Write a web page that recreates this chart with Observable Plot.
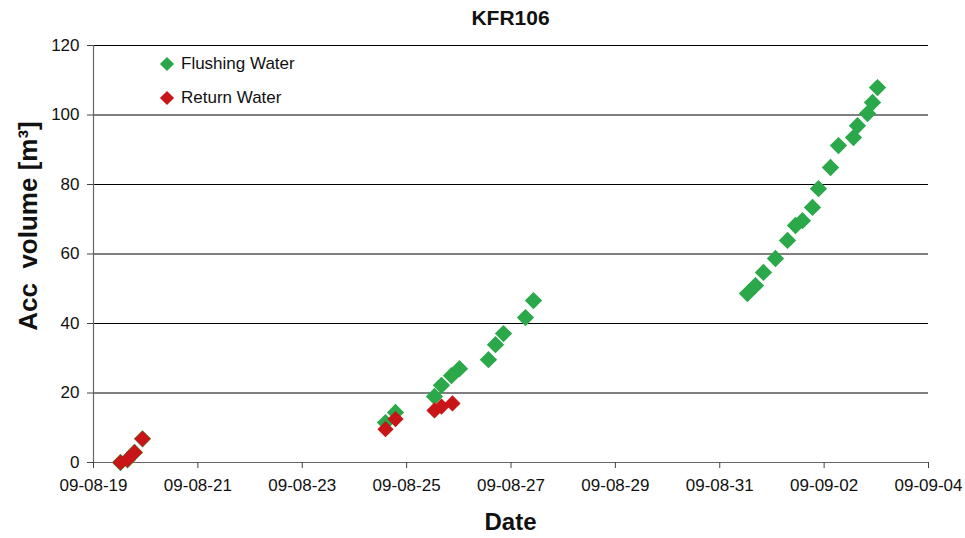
<!DOCTYPE html>
<html>
<head>
<meta charset="utf-8">
<script src="https://cdn.jsdelivr.net/npm/d3@7"></script>
<script src="https://cdn.jsdelivr.net/npm/@observablehq/plot@0.6"></script>
<style>
  body { margin: 0; background: #fff; font-family: Arial, "Liberation Sans", sans-serif; }
  #wrap { position: relative; width: 965px; height: 538px; overflow: hidden; }
  .title { position: absolute; left: 93px; width: 835px; top: 6px; text-align: center; font-weight: bold; font-size: 21px; color: #111; }
  .xlab { position: absolute; left: 93px; width: 835px; top: 508px; text-align: center; font-weight: bold; font-size: 24px; color: #111; }
  .ylab { position: absolute; left: 28px; top: 226px; transform: translate(-50%, -50%) rotate(-90deg); white-space: pre; font-weight: bold; font-size: 26px; color: #111; }
  .legend { position: absolute; left: 160px; top: 53px; font-size: 17px; color: #111; }
  .legend .item { display: flex; align-items: center; height: 22px; margin-bottom: 12px; }
  .legend .sw { width: 10px; height: 10px; transform: rotate(45deg); margin-right: 9px; margin-left: 2px; }
</style>
</head>
<body>
<div id="wrap">
  <div id="chart"></div>
  <div class="title">KFR106</div>
  <div class="xlab">Date</div>
  <div class="ylab">Acc  volume [m³]</div>
  <div class="legend">
    <div class="item"><span class="sw" style="background:#2aa84a"></span>Flushing Water</div>
    <div class="item"><span class="sw" style="background:#c81518"></span>Return Water</div>
  </div>
</div>
<script>
// ---- Data ----
const flushDates = [
  "2009-08-19T12:25", "2009-08-19T15:38", "2009-08-19T18:51", "2009-08-19T22:32",
  "2009-08-24T14:17", "2009-08-24T18:53",
  "2009-08-25T12:49", "2009-08-25T16:02", "2009-08-25T20:38", "2009-08-26T00:18",
  "2009-08-26T13:38", "2009-08-26T16:52", "2009-08-26T20:33", "2009-08-27T06:39", "2009-08-27T10:20",
  "2009-08-31T12:44", "2009-08-31T16:25", "2009-08-31T20:06", "2009-09-01T01:38", "2009-09-01T07:09",
  "2009-09-01T10:50", "2009-09-01T14:02", "2009-09-01T18:39", "2009-09-01T21:24", "2009-09-02T02:56",
  "2009-09-02T06:36", "2009-09-02T13:30", "2009-09-02T15:20", "2009-09-02T19:56", "2009-09-02T22:15",
  "2009-09-03T00:33"
];
const flushVol = [
  0, 0.8, 2.9, 6.8,
  11.5, 14.4,
  19.0, 22.2, 25.0, 27.0,
  29.6, 33.9, 37.1, 41.7, 46.6,
  48.6, 50.9, 54.7, 58.7, 63.9,
  68.2, 69.6, 73.4, 78.8, 84.9,
  91.2, 93.5, 96.9, 100.4, 103.6,
  107.9
];
const returnDates = [
  "2009-08-19T12:25", "2009-08-19T15:38", "2009-08-19T18:51", "2009-08-19T22:32",
  "2009-08-24T14:17", "2009-08-24T18:53",
  "2009-08-25T12:49", "2009-08-25T16:02", "2009-08-25T21:05"
];
const returnVol = [0, 0.8, 2.9, 6.8, 9.6, 12.5, 15.0, 16.1, 17.0];

const xDomainDates = ["2009-08-19", "2009-09-04"];
const xTickDates = ["2009-08-19", "2009-08-21", "2009-08-23", "2009-08-25", "2009-08-27",
                    "2009-08-29", "2009-08-31", "2009-09-02", "2009-09-04"];
const yTicks = [0, 20, 40, 60, 80, 100, 120];

// ---- Build tables ----
const parse = s => new Date(s + (s.length > 10 ? ":00Z" : "T00:00:00Z"));
const flush = flushDates.map((d, i) => ({date: parse(d), vol: flushVol[i]}));
const ret = returnDates.map((d, i) => ({date: parse(d), vol: returnVol[i]}));
const xDomain = xDomainDates.map(parse);
const xTicks = xTickDates.map(parse);

const chart = Plot.plot({
  width: 965,
  height: 538,
  marginLeft: 93,
  marginRight: 37,
  marginTop: 45,
  marginBottom: 76,
  style: {fontFamily: "Arial, 'Liberation Sans', sans-serif", fontSize: "17px", color: "#111", background: "#fff"},
  x: {type: "utc", domain: xDomain},
  y: {domain: [0, 120]},
  marks: [
    Plot.ruleY(yTicks.filter(v => v > 0), {stroke: "#000", strokeWidth: 1}),
    Plot.ruleY([0], {stroke: "#666", strokeWidth: 1.2}),
    Plot.ruleX([xDomain[0]], {stroke: "#666", strokeWidth: 1.2}),
    Plot.axisX({ticks: xTicks, tickFormat: d3.utcFormat("%y-%m-%d"), tickSize: 6, tickPadding: 10, label: null, stroke: "#444"}),
    Plot.axisY({ticks: yTicks, tickSize: 6, tickPadding: 8, label: null, stroke: "#444"}),
    Plot.dot(flush, {x: "date", y: "vol", symbol: "diamond2", r: 7.8, fill: "#2aa84a", stroke: "none"}),
    Plot.dot(ret, {x: "date", y: "vol", symbol: "diamond2", r: 7.3, fill: "#c81518", stroke: "none"})
  ]
});
document.getElementById("chart").appendChild(chart);
</script>
</body>
</html>
